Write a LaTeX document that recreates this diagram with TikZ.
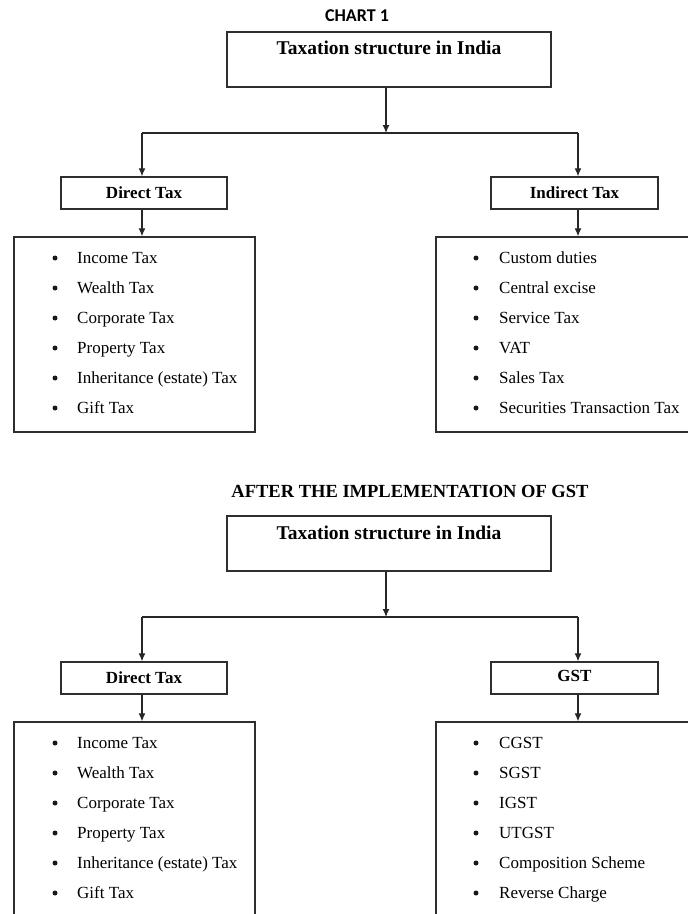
\documentclass[tikz,border=0pt]{standalone}
\usepackage{fontspec}
\setmainfont{Liberation Serif}
\newfontfamily\calib{Carlito}
\usetikzlibrary{arrows.meta}
\begin{document}
\begin{tikzpicture}[x=1pt,y=-1pt,
  frame/.style={draw=black!82,line width=1.4pt,inner sep=0pt},
  arr/.style={draw=black!85,line width=1.2pt,-{Latex[length=8pt,width=7pt]}},
  conn/.style={draw=black!85,line width=1.2pt},
  ttl/.style={font=\bfseries\fontsize{19.5}{22}\selectfont,inner sep=0pt},
  hdr/.style={font=\bfseries\fontsize{17}{20}\selectfont,inner sep=0pt},
  item/.style={font=\fontsize{17}{20}\selectfont,anchor=base west,inner sep=0pt},
  dot/.style={circle,fill=black!90,inner sep=0pt,minimum size=5pt},
  chart/.style={font=\calib\bfseries\fontsize{18}{20}\selectfont,inner sep=0pt},
  heading/.style={font=\bfseries\fontsize{18.5}{21}\selectfont,inner sep=0pt}]
\path[use as bounding box,fill=white] (0,0) rectangle (688,914);

% ---------- Chart 1 ----------
\node[chart] (c1) at (357,16) {CHART 1};
\node[frame,minimum width=324pt,minimum height=55pt] (top1) at (389,59.5) {};
\node[ttl] (top1t) at (389,48) {Taxation structure in India};
\coordinate (j1) at (386,133);
\coordinate (h1l) at (142,133);
\coordinate (h1r) at (578,133);
\node[frame,minimum width=166pt,minimum height=32pt] (dt1) at (144,193) {};
\node[hdr] (dt1t) at (144,193) {Direct Tax};
\node[frame,minimum width=167pt,minimum height=32pt] (it1) at (574.5,193) {};
\node[hdr] (it1t) at (574.5,193) {Indirect Tax};
\node[frame,minimum width=241pt,minimum height=195pt] (l1) at (134.5,334.5) {};
\node[frame,minimum width=264pt,minimum height=195pt] (r1) at (568,334.5) {};
\draw[arr] (top1.south -| j1) -- (j1);
\draw[conn] (h1l) -- (h1r);
\draw[arr] (h1l) -- (h1l |- dt1.north);
\draw[arr] (h1r) -- (h1r |- it1.north);
\draw[arr] (dt1.south -| h1l) -- (h1l |- l1.north);
\draw[arr] (it1.south -| h1r) -- (h1r |- r1.north);
\foreach \t [count=\i] in {Income Tax,Wealth Tax,Corporate Tax,Property Tax,Inheritance (estate) Tax,Gift Tax}{
  \node[dot] (l1b\i) at (55,228+30*\i) {};
  \node[item] (l1t\i) at (77,233+30*\i) {\t};
}
\foreach \t [count=\i] in {Custom duties,Central excise,Service Tax,VAT,Sales Tax,Securities Transaction Tax}{
  \node[dot] (r1b\i) at (476,228+30*\i) {};
  \node[item] (r1t\i) at (499,233+30*\i) {\t};
}

% ---------- Chart 2 ----------
\node[heading] (c2) at (410,491) {AFTER THE IMPLEMENTATION OF GST};
\node[frame,minimum width=324pt,minimum height=55pt] (top2) at (389,543.5) {};
\node[ttl] (top2t) at (389,533) {Taxation structure in India};
\coordinate (j2) at (386,617);
\coordinate (h2l) at (142,617);
\coordinate (h2r) at (578,617);
\node[frame,minimum width=166pt,minimum height=32pt] (dt2) at (144,678) {};
\node[hdr] (dt2t) at (144,678) {Direct Tax};
\node[frame,minimum width=167pt,minimum height=32pt] (gst2) at (574.5,678) {};
\node[hdr] (gst2t) at (574.5,676) {GST};
\node[frame,minimum width=241pt,minimum height=195pt] (l2) at (134.5,819.5) {};
\node[frame,minimum width=264pt,minimum height=195pt] (r2) at (568,819.5) {};
\draw[arr] (top2.south -| j2) -- (j2);
\draw[conn] (h2l) -- (h2r);
\draw[arr] (h2l) -- (h2l |- dt2.north);
\draw[arr] (h2r) -- (h2r |- gst2.north);
\draw[arr] (dt2.south -| h2l) -- (h2l |- l2.north);
\draw[arr] (gst2.south -| h2r) -- (h2r |- r2.north);
\foreach \t [count=\i] in {Income Tax,Wealth Tax,Corporate Tax,Property Tax,Inheritance (estate) Tax,Gift Tax}{
  \node[dot] (l2b\i) at (55,713+30*\i) {};
  \node[item] (l2t\i) at (77,718+30*\i) {\t};
}
\foreach \t [count=\i] in {CGST,SGST,IGST,UTGST,Composition Scheme,Reverse Charge}{
  \node[dot] (r2b\i) at (476,713+30*\i) {};
  \node[item] (r2t\i) at (499,718+30*\i) {\t};
}
\end{tikzpicture}
\end{document}
